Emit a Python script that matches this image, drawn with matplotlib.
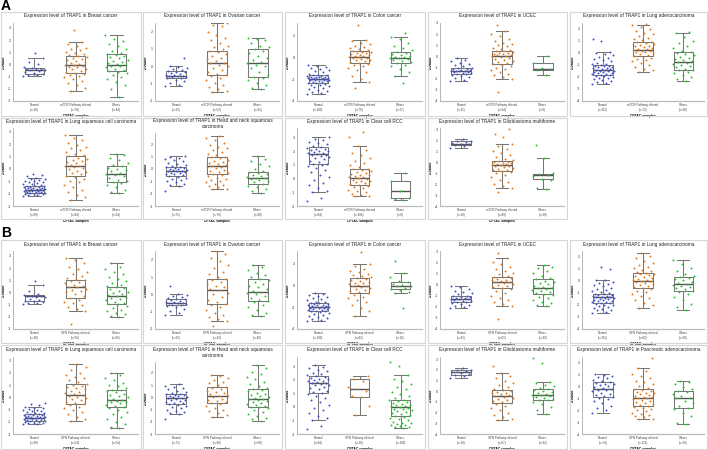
import matplotlib
matplotlib.use('Agg')
import matplotlib.pyplot as plt
from matplotlib.patches import Rectangle
import math

plt.rcParams['font.family'] = ['Liberation Sans', 'DejaVu Sans']

# ---------------- data ----------------
groups_a = ['Normal', 'mTOR Pathway altered', 'Others']
groups_b = ['Normal', 'SFN Pathway altered', 'Others']

# box stats per group: [whisker low, q1, median, q3, whisker high]
a_breast_stats = [[-0.97, -0.75, -0.42, -0.33, 0.55], [-2.14, -0.67, -0.08, 0.72, 1.83], [-2.67, -0.56, -0.08, 0.83, 2.4]]
a_breast_n = [18, 78, 44]
a_breast_normal = [-0.95, -0.9, -0.85, -0.78, -0.72, -0.65, -0.55, -0.48, -0.42, -0.4, -0.38, -0.35, -0.3, -0.2, 0.0, 0.2, 0.55, 0.9]
a_breast_alt = [-2.14, -1.95, -1.7, -1.5, -1.35, -1.2, -1.05, -0.95, -0.85, -0.75, -0.67, -0.6, -0.5, -0.4, -0.35, -0.25, -0.18, -0.1, -0.08, -0.02, 0.05, 0.12, 0.2, 0.28, 0.35, 0.45, 0.55, 0.62, 0.7, 0.75, 0.85, 0.95, 1.05, 1.15, 1.25, 1.35, 1.5, 1.65, 1.83, 2.86]
a_breast_other = [-2.67, -2.0, -1.7, -1.45, -1.2, -1.0, -0.85, -0.7, -0.6, -0.56, -0.45, -0.35, -0.25, -0.15, -0.1, -0.08, 0.0, 0.1, 0.2, 0.3, 0.4, 0.5, 0.6, 0.7, 0.8, 0.83, 0.95, 1.1, 1.3, 1.5, 1.7, 1.9, 2.1, 2.4]

a_ovarian_stats = [[-1.15, -0.67, -0.54, -0.25, 0.0], [-1.48, -0.5, 0.19, 0.9, 2.5], [-1.29, -0.62, 0.19, 1.0, 1.63]]
a_ovarian_n = [25, 52, 31]
a_ovarian_normal = [-1.15, -1.05, -0.95, -0.85, -0.78, -0.7, -0.67, -0.63, -0.6, -0.57, -0.55, -0.54, -0.52, -0.5, -0.45, -0.4, -0.35, -0.3, -0.25, -0.2, -0.15, -0.1, -0.05, 0.0, 0.5]
a_ovarian_alt = [-1.48, -1.4, -1.3, -1.2, -1.1, -0.95, -0.8, -0.65, -0.55, -0.5, -0.45, -0.35, -0.2, -0.1, 0.0, 0.1, 0.19, 0.2, 0.3, 0.4, 0.5, 0.6, 0.7, 0.8, 0.9, 1.0, 1.1, 1.2, 1.35, 1.5, 1.65, 1.8, 2.0, 2.3, 2.4, 2.5]
a_ovarian_other = [-1.29, -1.25, -1.1, -0.95, -0.8, -0.7, -0.62, -0.5, -0.3, -0.1, 0.0, 0.1, 0.19, 0.25, 0.35, 0.5, 0.6, 0.75, 0.9, 1.0, 1.1, 1.2, 1.35, 1.5, 1.6, 1.63]

a_colon_stats = [[-3.36, -2.36, -2.0, -1.64, -0.7], [-2.27, -0.55, 0.03, 0.52, 1.58], [-1.73, -0.55, -0.09, 0.45, 1.85]]
a_colon_n = [100, 70, 27]
a_colon_normal = [-3.36, -3.3, -3.2, -3.1, -3.0, -2.9, -2.8, -2.7, -2.6, -2.55, -2.5, -2.45, -2.4, -2.36, -2.3, -2.25, -2.2, -2.15, -2.12, -2.1, -2.08, -2.05, -2.03, -2.0, -1.98, -1.96, -1.94, -1.92, -1.9, -1.88, -1.85, -1.82, -1.8, -1.77, -1.74, -1.7, -1.67, -1.64, -1.6, -1.5, -1.4, -1.3, -1.2, -1.1, -1.0, -0.9, -0.8, -0.7]
a_colon_alt = [-2.82, -2.27, -2.0, -1.7, -1.4, -1.2, -1.0, -0.85, -0.7, -0.6, -0.55, -0.45, -0.35, -0.3, -0.25, -0.2, -0.12, -0.05, 0.0, 0.03, 0.08, 0.12, 0.17, 0.22, 0.28, 0.33, 0.38, 0.42, 0.47, 0.52, 0.6, 0.7, 0.8, 0.9, 1.0, 1.15, 1.3, 1.45, 1.58, 2.94]
a_colon_other = [-2.36, -1.73, -1.4, -1.1, -0.85, -0.7, -0.55, -0.45, -0.35, -0.25, -0.15, -0.09, -0.05, 0.0, 0.05, 0.12, 0.2, 0.3, 0.4, 0.45, 0.6, 0.8, 1.0, 1.3, 1.6, 1.85, 2.18]

a_ucec_stats = [[-2.2, -1.56, -1.3, -1.05, -0.15], [-2.0, -0.7, 0.06, 0.5, 2.25], [-1.7, -1.26, -1.1, -0.6, 0.0]]
a_ucec_n = [31, 94, 6]
a_ucec_normal = [-2.2, -2.1, -1.95, -1.85, -1.75, -1.65, -1.6, -1.56, -1.52, -1.48, -1.44, -1.4, -1.35, -1.32, -1.3, -1.27, -1.24, -1.2, -1.15, -1.1, -1.05, -1.0, -0.9, -0.8, -0.7, -0.55, -0.4, -0.3, -0.15]
a_ucec_alt = [-3.15, -2.0, -1.85, -1.7, -1.55, -1.4, -1.25, -1.1, -1.0, -0.9, -0.8, -0.7, -0.6, -0.5, -0.4, -0.3, -0.22, -0.15, -0.08, 0.0, 0.06, 0.1, 0.15, 0.2, 0.25, 0.3, 0.35, 0.4, 0.45, 0.5, 0.6, 0.7, 0.8, 0.9, 1.0, 1.1, 1.25, 1.4, 1.6, 1.8, 2.0, 2.25, 2.85]
a_ucec_other = [-1.7, -1.26, -1.15, -1.05, -0.6, 0.0]

a_luad_stats = [[-2.56, -1.82, -1.38, -1.02, 0.08], [-1.57, -0.28, 0.25, 0.88, 2.31], [-2.37, -1.43, -0.74, 0.05, 1.65]]
a_luad_n = [111, 72, 39]
a_luad_normal = [-2.56, -2.5, -2.42, -2.35, -2.28, -2.2, -2.12, -2.05, -2.0, -1.95, -1.9, -1.85, -1.82, -1.78, -1.74, -1.7, -1.66, -1.62, -1.58, -1.54, -1.5, -1.46, -1.42, -1.38, -1.35, -1.32, -1.28, -1.25, -1.2, -1.16, -1.12, -1.08, -1.05, -1.02, -0.95, -0.88, -0.8, -0.7, -0.6, -0.5, -0.4, -0.3, -0.2, -0.1, 0.0, 0.08, 1.0, 1.18]
a_luad_alt = [-1.57, -1.45, -1.3, -1.15, -1.0, -0.85, -0.7, -0.6, -0.5, -0.4, -0.32, -0.28, -0.2, -0.1, -0.02, 0.05, 0.1, 0.15, 0.2, 0.25, 0.3, 0.36, 0.42, 0.48, 0.55, 0.62, 0.7, 0.78, 0.85, 0.88, 0.95, 1.05, 1.15, 1.25, 1.4, 1.55, 1.7, 1.85, 2.0, 2.2, 2.31, 2.4]
a_luad_other = [-2.37, -2.2, -2.0, -1.85, -1.7, -1.55, -1.45, -1.43, -1.3, -1.2, -1.1, -1.0, -0.9, -0.8, -0.74, -0.7, -0.6, -0.5, -0.4, -0.3, -0.2, -0.1, 0.0, 0.05, 0.2, 0.4, 0.6, 0.8, 1.0, 1.3, 1.65, 1.73]

a_lusc_stats = [[-2.16, -1.97, -1.7, -1.38, -0.76], [-2.49, -0.54, 0.24, 1.0, 2.7], [-1.97, -1.08, -0.38, 0.24, 1.16]]
a_lusc_n = [99, 84, 24]
a_lusc_normal = [-2.16, -2.14, -2.1, -2.07, -2.04, -2.0, -1.97, -1.95, -1.92, -1.9, -1.87, -1.85, -1.82, -1.8, -1.78, -1.75, -1.73, -1.7, -1.68, -1.66, -1.64, -1.62, -1.6, -1.58, -1.55, -1.52, -1.5, -1.47, -1.44, -1.41, -1.38, -1.35, -1.3, -1.25, -1.2, -1.15, -1.1, -1.05, -1.0, -0.95, -0.9, -0.85, -0.8, -0.76, -0.6, -0.5, -0.4]
a_lusc_alt = [-2.49, -2.3, -2.1, -1.9, -1.7, -1.5, -1.3, -1.1, -0.95, -0.8, -0.65, -0.54, -0.45, -0.35, -0.25, -0.15, -0.05, 0.05, 0.12, 0.2, 0.24, 0.3, 0.38, 0.46, 0.55, 0.62, 0.7, 0.8, 0.9, 1.0, 1.1, 1.2, 1.35, 1.5, 1.65, 1.8, 1.95, 2.1, 2.3, 2.5, 2.7]
a_lusc_other = [-1.97, -1.9, -1.7, -1.5, -1.3, -1.15, -1.08, -1.0, -0.9, -0.75, -0.6, -0.5, -0.38, -0.3, -0.2, -0.1, 0.0, 0.1, 0.24, 0.35, 0.5, 0.7, 0.9, 1.1, 1.16]

a_hnsc_stats = [[-1.38, -0.57, -0.14, 0.19, 1.05], [-1.65, -0.43, 0.24, 1.0, 2.68], [-1.97, -1.2, -0.7, -0.22, 1.08]]
a_hnsc_n = [71, 78, 30]
a_hnsc_normal = [-1.78, -1.38, -1.3, -1.2, -1.1, -1.0, -0.9, -0.8, -0.72, -0.65, -0.57, -0.5, -0.45, -0.4, -0.35, -0.3, -0.25, -0.2, -0.16, -0.14, -0.1, -0.06, -0.02, 0.02, 0.06, 0.1, 0.14, 0.19, 0.25, 0.32, 0.4, 0.5, 0.6, 0.7, 0.8, 0.9, 1.0, 1.05]
a_hnsc_alt = [-1.65, -1.6, -1.5, -1.4, -1.3, -1.2, -1.1, -1.0, -0.9, -0.8, -0.7, -0.6, -0.5, -0.43, -0.35, -0.25, -0.15, -0.05, 0.05, 0.12, 0.18, 0.24, 0.3, 0.38, 0.46, 0.55, 0.65, 0.75, 0.85, 0.95, 1.0, 1.1, 1.2, 1.35, 1.5, 1.65, 1.8, 1.95, 2.1, 2.3, 2.5, 2.68]
a_hnsc_other = [-1.97, -1.8, -1.65, -1.5, -1.35, -1.2, -1.1, -1.0, -0.9, -0.8, -0.75, -0.7, -0.65, -0.6, -0.5, -0.4, -0.3, -0.22, -0.15, 0.0, 0.2, 0.4, 0.6, 0.8, 1.08]

a_ccrcc_stats = [[-0.99, 1.04, 1.8, 2.3, 3.04], [-1.3, -0.49, 0.05, 0.74, 2.35], [-1.56, -1.43, -0.94, -0.2, 0.42]]
a_ccrcc_n = [84, 104, 6]
a_ccrcc_normal = [-1.6, -1.4, -0.99, -0.9, -0.7, -0.5, -0.3, -0.1, 0.1, 0.3, 0.5, 0.65, 0.8, 0.9, 1.0, 1.04, 1.1, 1.2, 1.3, 1.4, 1.5, 1.6, 1.65, 1.7, 1.75, 1.8, 1.85, 1.9, 1.95, 2.0, 2.05, 2.1, 2.15, 2.2, 2.25, 2.3, 2.4, 2.5, 2.6, 2.7, 2.8, 2.9, 3.04]
a_ccrcc_alt = [-1.3, -1.25, -1.2, -1.1, -1.0, -0.9, -0.8, -0.7, -0.6, -0.55, -0.49, -0.42, -0.35, -0.28, -0.2, -0.14, -0.08, -0.02, 0.05, 0.1, 0.15, 0.2, 0.25, 0.3, 0.36, 0.42, 0.48, 0.55, 0.62, 0.7, 0.74, 0.85, 1.0, 1.15, 1.3, 1.5, 1.7, 1.9, 2.1, 2.35, 3.04, 3.38]
a_ccrcc_other = [-1.56, -1.5, -1.43, -0.94, -0.2, 0.42]

a_gbm_stats = [[1.24, 1.55, 1.67, 1.9, 2.06], [-2.33, -0.82, -0.3, 0.1, 1.67], [-2.48, -1.57, -1.2, -1.06, 0.4]]
a_gbm_n = [10, 89, 10]
a_gbm_normal = [1.24, 1.45, 1.55, 1.6, 1.65, 1.7, 1.8, 1.9, 1.95, 2.06]
a_gbm_alt = [-2.7, -2.33, -2.2, -2.0, -1.8, -1.6, -1.4, -1.2, -1.0, -0.9, -0.82, -0.75, -0.68, -0.6, -0.52, -0.45, -0.38, -0.32, -0.3, -0.25, -0.2, -0.15, -0.1, -0.05, 0.0, 0.05, 0.1, 0.2, 0.3, 0.45, 0.6, 0.8, 1.0, 1.2, 1.45, 1.67, 2.3, 2.55, 3.0]
a_gbm_other = [-2.48, -2.4, -1.6, -1.5, -1.3, -1.2, -1.1, -1.0, 0.4, 1.55]

b_breast_stats = [[-0.96, -0.71, -0.3, -0.25, 0.58], [-1.5, -0.44, 0.41, 0.99, 2.85], [-2.05, -0.93, -0.3, 0.41, 2.38]]
b_breast_n = [18, 56, 66]
b_breast_normal = [-0.96, -0.9, -0.85, -0.8, -0.74, -0.7, -0.62, -0.5, -0.4, -0.35, -0.32, -0.3, -0.28, -0.25, -0.1, 0.1, 0.58, 0.9]
b_breast_alt = [-2.6, -1.5, -1.35, -1.2, -1.05, -0.9, -0.75, -0.6, -0.44, -0.3, -0.15, 0.0, 0.1, 0.2, 0.3, 0.41, 0.45, 0.55, 0.65, 0.75, 0.85, 0.95, 0.99, 1.1, 1.2, 1.35, 1.5, 1.7, 1.9, 2.1, 2.4, 2.7, 2.85]
b_breast_other = [-2.05, -1.95, -1.8, -1.7, -1.55, -1.4, -1.25, -1.1, -0.95, -0.93, -0.85, -0.75, -0.65, -0.55, -0.45, -0.35, -0.3, -0.22, -0.15, -0.05, 0.05, 0.15, 0.25, 0.35, 0.41, 0.5, 0.65, 0.8, 0.95, 1.1, 1.3, 1.5, 1.7, 1.9, 2.1, 2.38]

b_ovarian_stats = [[-1.17, -0.63, -0.48, -0.29, 0.0], [-1.54, -0.58, 0.23, 0.9, 2.48], [-1.25, -0.38, 0.13, 0.9, 1.67]]
b_ovarian_n = [25, 43, 40]
b_ovarian_normal = [-1.17, -1.05, -0.95, -0.85, -0.75, -0.68, -0.63, -0.6, -0.55, -0.52, -0.5, -0.48, -0.46, -0.42, -0.38, -0.34, -0.29, -0.25, -0.2, -0.15, -0.1, -0.05, 0.0, 0.48]
b_ovarian_alt = [-1.8, -1.54, -1.45, -1.3, -1.2, -1.05, -0.9, -0.75, -0.6, -0.58, -0.45, -0.3, -0.15, 0.0, 0.1, 0.23, 0.3, 0.4, 0.5, 0.6, 0.7, 0.8, 0.9, 1.0, 1.15, 1.3, 1.5, 1.7, 1.9, 2.1, 2.3, 2.48]
b_ovarian_other = [-1.25, -1.2, -1.05, -0.9, -0.75, -0.6, -0.45, -0.38, -0.3, -0.2, -0.1, 0.0, 0.08, 0.13, 0.2, 0.3, 0.4, 0.5, 0.6, 0.7, 0.8, 0.9, 1.0, 1.1, 1.25, 1.4, 1.55, 1.67]

b_colon_stats = [[-3.27, -2.36, -2.03, -1.6, -0.7], [-2.8, -0.76, -0.1, 0.6, 1.88], [-0.76, -0.36, -0.06, 0.24, 1.12]]
b_colon_n = [100, 81, 16]
b_colon_normal = [-3.27, -3.2, -3.1, -3.0, -2.9, -2.8, -2.7, -2.6, -2.52, -2.45, -2.4, -2.36, -2.32, -2.28, -2.24, -2.2, -2.16, -2.12, -2.08, -2.05, -2.03, -2.0, -1.97, -1.94, -1.9, -1.86, -1.82, -1.78, -1.74, -1.7, -1.65, -1.6, -1.55, -1.5, -1.4, -1.3, -1.2, -1.1, -1.0, -0.9, -0.8, -0.7]
b_colon_alt = [-2.8, -2.4, -2.1, -1.8, -1.55, -1.35, -1.2, -1.05, -0.9, -0.76, -0.65, -0.55, -0.45, -0.35, -0.25, -0.18, -0.1, -0.05, 0.0, 0.08, 0.15, 0.22, 0.3, 0.38, 0.45, 0.52, 0.6, 0.7, 0.8, 0.9, 1.0, 1.15, 1.3, 1.5, 1.7, 1.88, 2.97]
b_colon_other = [-2.12, -0.76, -0.6, -0.45, -0.36, -0.25, -0.1, -0.06, 0.0, 0.1, 0.24, 0.4, 0.7, 1.12, 2.18]

b_ucec_stats = [[-2.15, -1.6, -1.3, -1.0, -0.12], [-1.95, -0.36, 0.24, 0.69, 2.34], [-1.95, -0.9, -0.36, 0.45, 1.74]]
b_ucec_n = [31, 61, 39]
b_ucec_normal = [-2.15, -2.05, -1.95, -1.85, -1.75, -1.65, -1.6, -1.55, -1.5, -1.45, -1.4, -1.35, -1.3, -1.28, -1.25, -1.2, -1.15, -1.1, -1.05, -1.0, -0.9, -0.8, -0.7, -0.55, -0.4, -0.25, -0.12]
b_ucec_alt = [-3.14, -1.95, -1.8, -1.6, -1.4, -1.2, -1.0, -0.8, -0.6, -0.45, -0.36, -0.25, -0.15, -0.05, 0.05, 0.12, 0.2, 0.24, 0.3, 0.36, 0.42, 0.5, 0.58, 0.65, 0.69, 0.8, 0.9, 1.05, 1.2, 1.4, 1.6, 1.8, 2.0, 2.34, 2.84]
b_ucec_other = [-1.95, -1.85, -1.7, -1.55, -1.4, -1.25, -1.1, -0.95, -0.9, -0.8, -0.7, -0.6, -0.5, -0.4, -0.36, -0.3, -0.2, -0.1, 0.0, 0.1, 0.2, 0.3, 0.45, 0.6, 0.8, 1.0, 1.2, 1.45, 1.6, 1.74]

b_luad_stats = [[-2.64, -1.8, -1.33, -1.05, 0.11], [-2.25, -0.58, 0.0, 0.67, 2.36], [-2.39, -0.81, -0.22, 0.33, 1.72]]
b_luad_n = [111, 82, 29]
b_luad_normal = [-2.64, -2.55, -2.45, -2.38, -2.3, -2.22, -2.15, -2.08, -2.02, -1.96, -1.9, -1.85, -1.8, -1.76, -1.72, -1.68, -1.64, -1.6, -1.56, -1.52, -1.48, -1.44, -1.4, -1.36, -1.33, -1.3, -1.26, -1.22, -1.18, -1.14, -1.1, -1.05, -1.0, -0.92, -0.84, -0.75, -0.65, -0.55, -0.45, -0.35, -0.25, -0.15, -0.05, 0.05, 0.11, 1.0, 1.17]
b_luad_alt = [-2.25, -2.0, -1.8, -1.6, -1.4, -1.25, -1.1, -0.95, -0.8, -0.68, -0.58, -0.5, -0.42, -0.34, -0.26, -0.18, -0.1, -0.04, 0.0, 0.06, 0.12, 0.18, 0.25, 0.32, 0.4, 0.48, 0.56, 0.62, 0.67, 0.75, 0.85, 0.95, 1.05, 1.2, 1.35, 1.5, 1.7, 1.9, 2.1, 2.36]
b_luad_other = [-2.39, -2.2, -1.9, -1.6, -1.3, -1.1, -0.9, -0.81, -0.7, -0.6, -0.5, -0.4, -0.3, -0.22, -0.15, -0.05, 0.05, 0.15, 0.25, 0.33, 0.45, 0.6, 0.8, 1.1, 1.4, 1.72]

b_lusc_stats = [[-2.22, -1.92, -1.68, -1.4, -0.78], [-1.95, -0.57, 0.16, 1.1, 2.73], [-2.54, -0.78, -0.24, 0.62, 1.97]]
b_lusc_n = [99, 54, 54]
b_lusc_normal = [-2.22, -2.18, -2.14, -2.1, -2.06, -2.02, -1.98, -1.95, -1.92, -1.88, -1.85, -1.82, -1.79, -1.76, -1.73, -1.7, -1.68, -1.66, -1.64, -1.62, -1.6, -1.57, -1.54, -1.51, -1.48, -1.45, -1.42, -1.4, -1.35, -1.3, -1.25, -1.2, -1.15, -1.1, -1.05, -1.0, -0.95, -0.9, -0.85, -0.78, -0.65, -0.55, -0.46]
b_lusc_alt = [-1.95, -1.8, -1.6, -1.4, -1.2, -1.05, -0.9, -0.75, -0.6, -0.57, -0.45, -0.35, -0.25, -0.15, -0.05, 0.05, 0.12, 0.16, 0.25, 0.35, 0.45, 0.55, 0.65, 0.75, 0.85, 0.95, 1.05, 1.1, 1.25, 1.4, 1.55, 1.7, 1.85, 2.0, 2.2, 2.45, 2.73]
b_lusc_other = [-2.54, -2.4, -2.2, -2.0, -1.8, -1.6, -1.4, -1.2, -1.0, -0.85, -0.78, -0.7, -0.6, -0.5, -0.42, -0.35, -0.28, -0.24, -0.18, -0.1, 0.0, 0.1, 0.2, 0.3, 0.4, 0.5, 0.6, 0.62, 0.75, 0.9, 1.05, 1.2, 1.4, 1.6, 1.8, 1.97]

b_hnsc_stats = [[-1.38, -0.54, -0.03, 0.24, 1.08], [-1.57, -0.49, 0.08, 0.86, 1.86], [-1.92, -0.76, -0.16, 0.65, 2.68]]
b_hnsc_n = [71, 40, 68]
b_hnsc_normal = [-1.78, -1.38, -1.3, -1.2, -1.1, -1.0, -0.9, -0.8, -0.7, -0.6, -0.54, -0.48, -0.42, -0.36, -0.3, -0.24, -0.18, -0.12, -0.07, -0.03, 0.0, 0.04, 0.08, 0.12, 0.16, 0.2, 0.24, 0.3, 0.38, 0.46, 0.55, 0.65, 0.75, 0.85, 0.95, 1.08]
b_hnsc_alt = [-1.57, -1.45, -1.3, -1.15, -1.0, -0.85, -0.7, -0.55, -0.49, -0.4, -0.3, -0.2, -0.1, 0.0, 0.08, 0.15, 0.25, 0.35, 0.45, 0.55, 0.65, 0.75, 0.86, 1.0, 1.15, 1.3, 1.45, 1.6, 1.75, 1.86]
b_hnsc_other = [-1.92, -1.8, -1.65, -1.5, -1.35, -1.2, -1.05, -0.9, -0.8, -0.76, -0.68, -0.6, -0.52, -0.44, -0.36, -0.28, -0.2, -0.16, -0.1, -0.02, 0.06, 0.14, 0.22, 0.3, 0.4, 0.5, 0.6, 0.65, 0.8, 0.95, 1.1, 1.3, 1.5, 1.7, 1.9, 2.1, 2.4, 2.68]

b_ccrcc_stats = [[-0.98, 1.05, 1.79, 2.28, 3.09], [-0.56, 0.74, 1.35, 2.08, 2.33], [-1.54, -0.69, 0.0, 0.54, 2.38]]
b_ccrcc_n = [84, 10, 100]
b_ccrcc_normal = [-1.6, -1.4, -0.98, -0.85, -0.65, -0.45, -0.25, -0.05, 0.15, 0.35, 0.55, 0.7, 0.85, 0.95, 1.05, 1.1, 1.2, 1.3, 1.4, 1.5, 1.6, 1.65, 1.7, 1.75, 1.79, 1.84, 1.9, 1.95, 2.0, 2.05, 2.1, 2.15, 2.2, 2.28, 2.35, 2.45, 2.55, 2.65, 2.75, 2.85, 2.95, 3.09]
b_ccrcc_alt = [-0.56, 0.1, 0.74, 0.85, 1.2, 1.35, 1.5, 1.9, 2.08, 2.33]
b_ccrcc_other = [-1.54, -1.5, -1.45, -1.4, -1.35, -1.3, -1.25, -1.2, -1.15, -1.1, -1.0, -0.9, -0.8, -0.72, -0.69, -0.6, -0.52, -0.45, -0.38, -0.3, -0.24, -0.18, -0.12, -0.06, 0.0, 0.04, 0.08, 0.13, 0.18, 0.24, 0.3, 0.36, 0.42, 0.48, 0.54, 0.65, 0.8, 0.95, 1.1, 1.3, 1.5, 1.7, 1.9, 2.1, 2.38, 3.06, 3.36]

b_gbm_stats = [[1.24, 1.55, 1.79, 2.0, 2.15], [-2.67, -1.09, -0.42, 0.12, 1.73], [-2.15, -0.79, -0.39, 0.18, 0.88]]
b_gbm_n = [10, 67, 32]
b_gbm_normal = [1.24, 1.4, 1.55, 1.62, 1.7, 1.79, 1.85, 1.95, 2.0, 2.15]
b_gbm_alt = [-2.67, -2.6, -2.4, -2.2, -2.0, -1.8, -1.6, -1.4, -1.2, -1.09, -1.0, -0.9, -0.8, -0.7, -0.6, -0.5, -0.42, -0.35, -0.28, -0.2, -0.12, -0.05, 0.05, 0.12, 0.25, 0.4, 0.6, 0.8, 1.0, 1.2, 1.45, 1.73, 2.4]
b_gbm_other = [-2.15, -1.8, -1.5, -1.2, -1.0, -0.85, -0.79, -0.7, -0.6, -0.5, -0.42, -0.39, -0.35, -0.25, -0.15, -0.05, 0.05, 0.12, 0.18, 0.3, 0.45, 0.6, 0.75, 0.88, 2.64, 3.1]

b_paad_stats = [[-2.19, -0.9, -0.19, 0.41, 1.1], [-2.74, -1.64, -0.96, -0.22, 1.56], [-3.15, -1.84, -0.96, -0.36, 0.49]]
b_paad_n = [74, 121, 19]
b_paad_normal = [-2.19, -2.0, -1.8, -1.6, -1.4, -1.2, -1.05, -0.95, -0.9, -0.8, -0.7, -0.6, -0.5, -0.4, -0.32, -0.25, -0.19, -0.12, -0.05, 0.02, 0.1, 0.18, 0.26, 0.34, 0.41, 0.5, 0.6, 0.7, 0.8, 0.9, 1.0, 1.1]
b_paad_alt = [-2.74, -2.7, -2.6, -2.5, -2.4, -2.3, -2.2, -2.1, -2.0, -1.9, -1.8, -1.7, -1.64, -1.55, -1.45, -1.38, -1.3, -1.22, -1.15, -1.08, -1.0, -0.96, -0.9, -0.84, -0.78, -0.72, -0.65, -0.58, -0.5, -0.42, -0.34, -0.26, -0.22, -0.1, 0.05, 0.2, 0.35, 0.5, 0.7, 0.9, 1.1, 1.3, 1.56, 2.41]
b_paad_other = [-3.15, -3.1, -2.5, -2.2, -1.9, -1.84, -1.6, -1.4, -1.2, -1.0, -0.96, -0.8, -0.6, -0.45, -0.36, -0.2, 0.0, 0.2, 0.4, 0.49]

# ---------------- layout ----------------
W, H = 708, 450
fig = plt.figure(figsize=(W / 100, H / 100), dpi=100)

def fx(px):
    return px / W

def fy(py):
    return 1 - py / H

cols = [(1, 141), (143, 282), (285, 425), (428, 567), (570, 707)]
# card top, card bottom, title y, axes top, axes bottom
rows = [(12, 116, 16, 23, 101), (118, 219, 121, 128, 206),
        (240, 343, 244, 251, 329), (345, 449, 350, 357, 434)]

colors = ['#3e4fc8', '#e27a1a', '#27c22d']

def subplot(row, col, title, stats, pts, ns, names, ylim, step, two_line=False):
    x0, x1 = cols[col]
    ct, cb, ty, at, ab = rows[row]
    fig.patches.append(Rectangle((fx(x0), fy(cb)), fx(x1 - x0), (cb - ct) / H,
                                 transform=fig.transFigure, fill=False,
                                 edgecolor='#d6d6d6', lw=0.8, zorder=0))
    if two_line:
        at += 5
    ax = fig.add_axes([fx(x0 + 12), fy(ab), fx(x1 - x0 - 15), (ab - at) / H])
    fig.text(fx((x0 + x1) / 2), fy(ty + (2.5 if two_line else 0)), title,
             ha='center', va='center', fontsize=3.4, color='#222', linespacing=1.1)
    bstats = [dict(whislo=s[0], q1=s[1], med=s[2], q3=s[3], whishi=s[4], fliers=[]) for s in stats]
    ax.bxp(bstats, positions=[0, 1, 2], widths=0.48, showfliers=False, capwidths=0.3,
           boxprops=dict(color='#777777', lw=0.75),
           whiskerprops=dict(color='#777777', lw=0.75),
           capprops=dict(color='#777777', lw=0.75),
           medianprops=dict(color='#555555', lw=1.0))
    for i, vals in enumerate(pts):
        xs = [i + ((k * 0.6180339887 + 0.31 * i) % 1.0 - 0.5) * 0.56 for k in range(len(vals))]
        ax.scatter(xs, vals, s=2.0, color=colors[i], linewidths=0, zorder=3)
    ax.set_xlim(-0.52, 2.52)
    ax.set_ylim(*ylim)
    lo = math.ceil(ylim[0] / step) * step
    ticks = []
    t = lo
    while t <= ylim[1] + 1e-9:
        ticks.append(t)
        t += step
    ax.set_yticks(ticks)
    ax.set_yticklabels([f'{int(t)}' for t in ticks])
    ax.set_xticks([0, 1, 2])
    ax.set_xticklabels([f'{nm}\n(n={n})' for nm, n in zip(names, ns)])
    ax.tick_params(axis='x', length=0, labelsize=2.2, pad=1.5, colors='#444')
    ax.tick_params(axis='y', length=0, labelsize=2.6, pad=1.5, colors='#333')
    for s in ['top', 'right']:
        ax.spines[s].set_visible(False)
    ax.spines['left'].set_color('#999999')
    ax.spines['left'].set_linewidth(0.5)
    ax.spines['bottom'].set_color('#bbbbbb')
    ax.spines['bottom'].set_linewidth(0.9)
    ax.set_ylabel('Z-value', fontsize=2.8, fontweight='bold', labelpad=1.5)
    ax.set_xlabel('CPTAC samples', fontsize=2.4, fontweight='bold', labelpad=2.0)
    ax.set_facecolor('none')
    return ax

ttl = 'Expression level of TRAP1 in '
panel_a = [
    (0, 0, 'Breast cancer', a_breast_stats, [a_breast_normal, a_breast_alt, a_breast_other], a_breast_n, (-3, 3.4), 1, False),
    (0, 1, 'Ovarian cancer', a_ovarian_stats, [a_ovarian_normal, a_ovarian_alt, a_ovarian_other], a_ovarian_n, (-2, 2.5), 1, False),
    (0, 2, 'Colon cancer', a_colon_stats, [a_colon_normal, a_colon_alt, a_colon_other], a_colon_n, (-4, 3.1), 2, False),
    (0, 3, 'UCEC', a_ucec_stats, [a_ucec_normal, a_ucec_alt, a_ucec_other], a_ucec_n, (-4, 3.0), 1, False),
    (0, 4, 'Lung adenocarcinoma', a_luad_stats, [a_luad_normal, a_luad_alt, a_luad_other], a_luad_n, (-4, 2.5), 1, False),
    (1, 0, 'Lung squamous cell carcinoma', a_lusc_stats, [a_lusc_normal, a_lusc_alt, a_lusc_other], a_lusc_n, (-3, 3.3), 1, False),
    (1, 1, 'Head and neck squamous\ncarcinoma', a_hnsc_stats, [a_hnsc_normal, a_hnsc_alt, a_hnsc_other], a_hnsc_n, (-3, 2.9), 1, True),
    (1, 2, 'Clear cell RCC', a_ccrcc_stats, [a_ccrcc_normal, a_ccrcc_alt, a_ccrcc_other], a_ccrcc_n, (-2, 3.7), 1, False),
    (1, 3, 'Glioblastoma multiforme', a_gbm_stats, [a_gbm_normal, a_gbm_alt, a_gbm_other], a_gbm_n, (-4, 3.1), 1, False),
]
panel_b = [
    (2, 0, 'Breast cancer', b_breast_stats, [b_breast_normal, b_breast_alt, b_breast_other], b_breast_n, (-3, 3.4), 1, False),
    (2, 1, 'Ovarian cancer', b_ovarian_stats, [b_ovarian_normal, b_ovarian_alt, b_ovarian_other], b_ovarian_n, (-2, 2.5), 1, False),
    (2, 2, 'Colon cancer', b_colon_stats, [b_colon_normal, b_colon_alt, b_colon_other], b_colon_n, (-4, 3.1), 2, False),
    (2, 3, 'UCEC', b_ucec_stats, [b_ucec_normal, b_ucec_alt, b_ucec_other], b_ucec_n, (-4, 3.0), 1, False),
    (2, 4, 'Lung adenocarcinoma', b_luad_stats, [b_luad_normal, b_luad_alt, b_luad_other], b_luad_n, (-4, 2.5), 1, False),
    (3, 0, 'Lung squamous cell carcinoma', b_lusc_stats, [b_lusc_normal, b_lusc_alt, b_lusc_other], b_lusc_n, (-3, 3.3), 1, False),
    (3, 1, 'Head and neck squamous\ncarcinoma', b_hnsc_stats, [b_hnsc_normal, b_hnsc_alt, b_hnsc_other], b_hnsc_n, (-3, 2.9), 1, True),
    (3, 2, 'Clear cell RCC', b_ccrcc_stats, [b_ccrcc_normal, b_ccrcc_alt, b_ccrcc_other], b_ccrcc_n, (-2, 3.7), 1, False),
    (3, 3, 'Glioblastoma multiforme', b_gbm_stats, [b_gbm_normal, b_gbm_alt, b_gbm_other], b_gbm_n, (-4, 3.2), 1, False),
    (3, 4, 'Pancreatic adenocarcinoma', b_paad_stats, [b_paad_normal, b_paad_alt, b_paad_other], b_paad_n, (-4, 2.5), 1, False),
]

for (r, c, name, st, pts, ns, yl, step, two) in panel_a:
    subplot(r, c, ttl + name, st, pts, ns, groups_a, yl, step, two)
for (r, c, name, st, pts, ns, yl, step, two) in panel_b:
    subplot(r, c, ttl + name, st, pts, ns, groups_b, yl, step, two)

fig.text(fx(1), fy(6), 'A', fontsize=10, fontweight='bold', ha='left', va='center')
fig.text(fx(1), fy(233), 'B', fontsize=10, fontweight='bold', ha='left', va='center')

fig.savefig('out.png', dpi=100, facecolor='white')
